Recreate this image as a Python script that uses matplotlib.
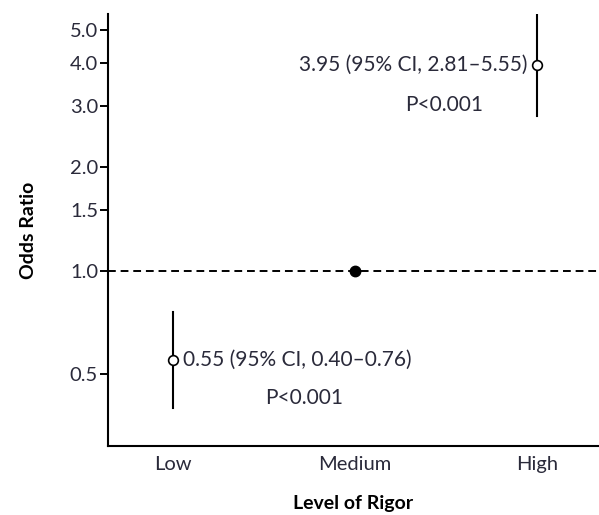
import numpy as np
import matplotlib.pyplot as plt
from matplotlib.ticker import FixedLocator, NullLocator

categories = ['Low', 'Medium', 'High']
odds = [0.55, 1.0, 3.95]
ci_low = [0.40, None, 2.81]
ci_high = [0.76, None, 5.55]
yticks = [0.5, 1.0, 1.5, 2.0, 3.0, 4.0, 5.0]
ann_main = ['0.55 (95% CI, 0.40\u20130.76)', None, '3.95 (95% CI, 2.81\u20135.55)']
ann_p = ['P<0.001', None, 'P<0.001']

plt.rcParams['font.family'] = ['Lato', 'DejaVu Sans']

fig = plt.figure(figsize=(5.99, 5.15), dpi=100)
ax = fig.add_axes([0.180, 0.134, 0.82, 0.839])

x = np.arange(len(categories))
txtcol = '#2a2a3a'

ax.axhline(1.0, color='black', linestyle=(0, (4, 2.5)), linewidth=1.4, zorder=1)

for i in range(len(categories)):
    if ci_low[i] is not None:
        ax.plot([x[i], x[i]], [ci_low[i], ci_high[i]], color='black', linewidth=1.5, zorder=2)
        ax.plot(x[i], odds[i], 'o', markersize=7, markerfacecolor='white',
                markeredgecolor='black', markeredgewidth=1.2, zorder=3)
    else:
        ax.plot(x[i], odds[i], 'o', markersize=7.5, color='black', zorder=3)

# annotations
ax.annotate(ann_main[0], (x[0], odds[0]), xytext=(7, 0), textcoords='offset points',
            ha='left', va='center', fontsize=15, color=txtcol)
ax.annotate(ann_p[0], (x[0], odds[0]), xytext=(94, -27), textcoords='offset points',
            ha='center', va='center', fontsize=15, color=txtcol)
ax.annotate(ann_main[2], (x[2], odds[2]), xytext=(-7, 0), textcoords='offset points',
            ha='right', va='center', fontsize=15, color=txtcol)
ax.annotate(ann_p[2], (x[2], odds[2]), xytext=(-67, -29), textcoords='offset points',
            ha='center', va='center', fontsize=15, color=txtcol)

ax.set_yscale('log')
ax.set_ylim(0.31, 5.56)
ax.set_xlim(-0.36, 2.34)
ax.yaxis.set_major_locator(FixedLocator(yticks))
ax.yaxis.set_minor_locator(NullLocator())
ax.set_yticklabels(['%.1f' % t for t in yticks])
ax.set_xticks(x)
ax.set_xticklabels(categories)

ax.spines['top'].set_visible(False)
ax.spines['right'].set_visible(False)
ax.spines['left'].set_linewidth(1.5)
ax.spines['bottom'].set_linewidth(1.5)
ax.tick_params(axis='y', direction='out', length=6, width=1.4, pad=1, labelsize=14.5, colors='black',
               labelcolor=txtcol)
ax.tick_params(axis='x', length=0, pad=7, labelsize=14.5, labelcolor=txtcol)

ax.set_ylabel('Odds Ratio', fontsize=14, fontweight='bold', labelpad=24)
ax.set_xlabel('Level of Rigor', fontsize=14, fontweight='bold', labelpad=16)

plt.savefig('out.png', dpi=100)
plt.close()
